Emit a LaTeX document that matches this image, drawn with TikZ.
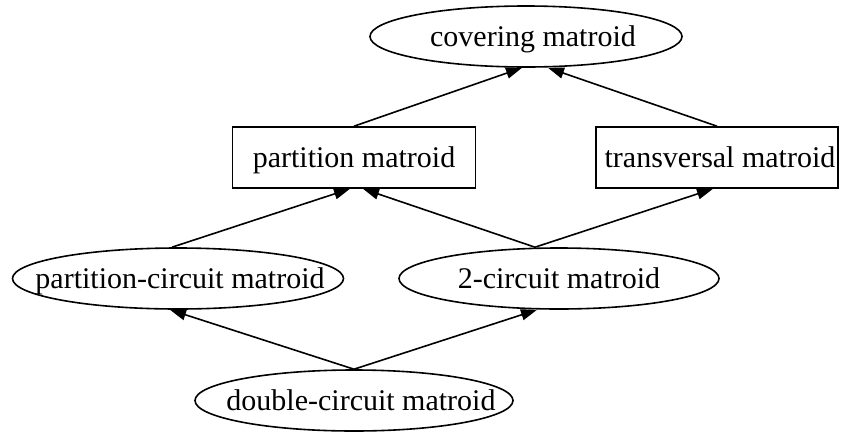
\documentclass[tikz,border=0pt]{standalone}
\usepackage{fontspec}
\setmainfont{Liberation Serif}
\usetikzlibrary{shapes.geometric,arrows.meta}
\newcommand{\lbl}[2][0pt]{\makebox[0pt]{\hspace*{#1}#2}}

\begin{document}
\begin{tikzpicture}[x=1pt,y=-1pt]
\tikzstyle{every node}=[font=\fontsize{30}{36}\selectfont,inner sep=0pt,text height=22pt,text depth=2pt,line width=1.6pt]
\tikzstyle{matoval}=[draw,ellipse,minimum height=61pt]
\tikzstyle{matbox}=[draw,rectangle,minimum height=61pt]
\tikzstyle{edge}=[line width=1.6pt,-{Triangle[length=16pt,width=11pt]}]
	\useasboundingbox (0,0) rectangle (841,432);
	% top rank
    \node[matoval,minimum width=312pt] (cov) at (526,36.5) {\lbl[14pt]{covering matroid}};
    % second rank
    \node[matbox,minimum width=243pt] (part) at (354,157.5) {\lbl{partition matroid}};
    \node[matbox,minimum width=242pt] (trans) at (717,157.5) {\lbl[6pt]{transversal matroid}};
    % third rank
    \node[matoval,minimum width=331pt] (pc) at (178,278.5) {\lbl[4pt]{partition-circuit matroid}};
    \node[matoval,minimum width=320pt] (twoc) at (559,278.5) {\lbl{2-circuit matroid}};
    % bottom
    \node[matoval,minimum width=318pt] (dc) at (354,400.5) {\lbl[14pt]{double-circuit matroid}};
    \draw[edge] (part.north) -- ([xshift=-4pt]cov.south);
    \draw[edge] (trans.north) -- ([xshift=22pt]cov.south);
    \draw[edge] ([xshift=-6pt]pc.north) -- ([xshift=-4pt]part.south);
    \draw[edge] ([xshift=-24pt]twoc.north) -- ([xshift=9pt]part.south);
    \draw[edge] ([xshift=-24pt]twoc.north) -- ([xshift=-4pt]trans.south);
    \draw[edge] (dc.north) -- ([xshift=-8pt]pc.south);
    \draw[edge] (dc.north) -- ([xshift=-22pt]twoc.south);
%	\node at (twoc) {};
\end{tikzpicture}
\end{document}
